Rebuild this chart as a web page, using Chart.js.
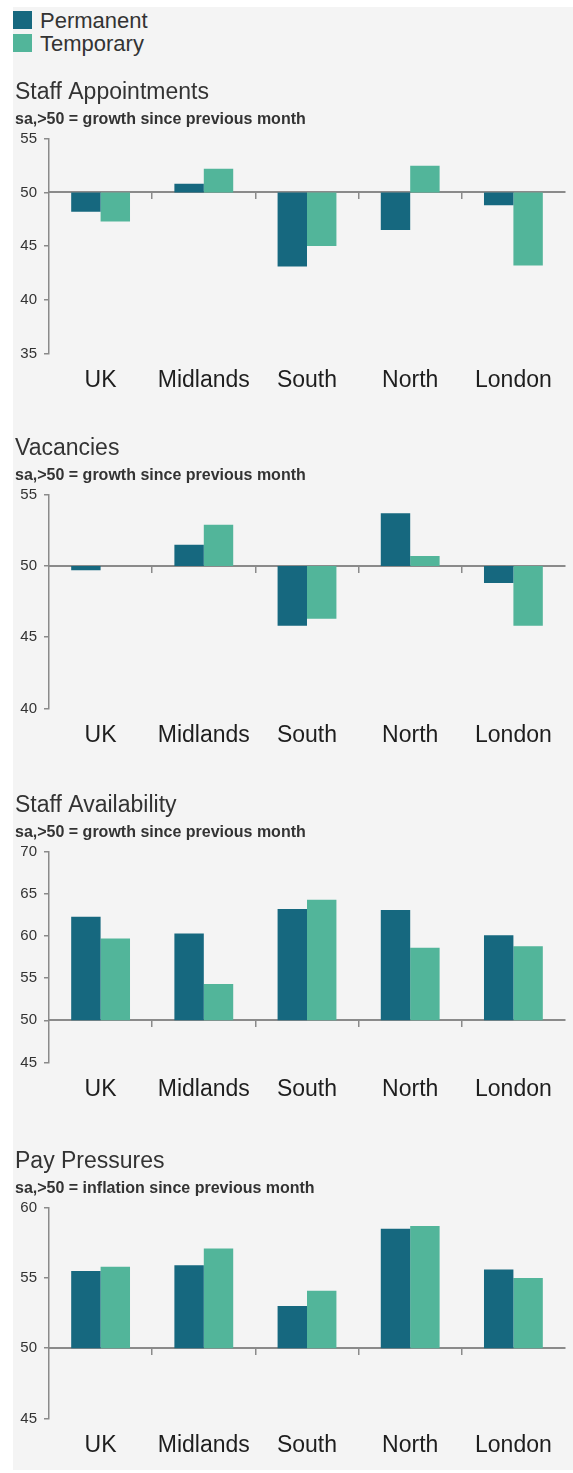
<!DOCTYPE html>
<html>
<head>
<meta charset="utf-8">
<script src="https://cdn.jsdelivr.net/npm/chart.js@4.4.1/dist/chart.umd.min.js"></script>
<style>
    body { margin: 0; background: #ffffff; font-family: "Liberation Sans", Arial, sans-serif; }
    .panel { position: absolute; left: 13px; top: 7px; width: 560px; height: 1463px; background: #f4f4f4; }
    .legend-item { position: absolute; left: 13px; height: 18px; }
    .legend-item .box { position: absolute; left: 0; top: 0; width: 19px; height: 18px; }
    .legend-item .label { position: absolute; left: 27px; top: -2px; font-size: 22px; line-height: 24px; color: #333; white-space: nowrap; }
    canvas { position: absolute; left: 13px; }
</style>
</head>
<body>
<div class="panel"></div>
<div class="legend-item" style="top: 11px;"><div class="box" style="background:#16687f"></div><div class="label">Permanent</div></div>
<div class="legend-item" style="top: 34px;"><div class="box" style="background:#52b59a"></div><div class="label">Temporary</div></div>

<canvas id="appointments" width="560" height="328" style="top: 79px;"></canvas>
<canvas id="vacancies" width="560" height="327" style="top: 435px;"></canvas>
<canvas id="availability" width="560" height="324" style="top: 792px;"></canvas>
<canvas id="pay" width="560" height="324" style="top: 1148px;"></canvas>

<script>
const categories = ["UK", "Midlands", "South", "North", "London"];

const appointmentsPerm = [48.2, 50.8, 43.1, 46.5, 48.8];
const appointmentsTemp = [47.3, 52.2, 45.0, 52.5, 43.2];

const vacanciesPerm = [49.7, 51.5, 45.8, 53.7, 48.8];
const vacanciesTemp = [50.0, 52.9, 46.3, 50.7, 45.8];

const availabilityPerm = [62.3, 60.3, 63.2, 63.1, 60.1];
const availabilityTemp = [59.7, 54.3, 64.3, 58.6, 58.8];

const payPerm = [55.5, 55.9, 53.0, 58.5, 55.6];
const payTemp = [55.8, 57.1, 54.1, 58.7, 55.0];

const baseline = 50;
const permColor = "#16687f";
const tempColor = "#52b59a";
const axisColor = "#8a8a8a";

function makeChart(id, title, subtitle, perm, temp, yMin, yMax) {
    const ctx = document.getElementById(id).getContext("2d");
    return new Chart(ctx, {
        type: "bar",
        data: {
            labels: categories,
            datasets: [
                { label: "Permanent", data: perm.map(v => [baseline, v]), backgroundColor: permColor },
                { label: "Temporary", data: temp.map(v => [baseline, v]), backgroundColor: tempColor }
            ]
        },
        options: {
            responsive: false,
            animation: false,
            categoryPercentage: 0.57,
            barPercentage: 1.0,
            layout: { padding: { left: 2, right: 8, top: 0, bottom: 0 } },
            plugins: {
                legend: { display: false },
                tooltip: { enabled: false },
                title: {
                    display: true,
                    text: title,
                    align: "start",
                    color: "#333",
                    font: { family: "Liberation Sans", size: 23, weight: "normal" },
                    padding: { top: 0, bottom: 3 }
                },
                subtitle: {
                    display: true,
                    text: subtitle,
                    align: "start",
                    color: "#333",
                    font: { family: "Liberation Sans", size: 16, weight: "bold" },
                    padding: { top: 0, bottom: 10 }
                }
            },
            scales: {
                x: {
                    grid: { display: false, drawTicks: false },
                    border: { display: false },
                    ticks: {
                        color: "#1e1e1e",
                        font: { family: "Liberation Sans", size: 23 },
                        padding: 13,
                        maxRotation: 0
                    }
                },
                x2: {
                    type: "category",
                    position: { y: baseline },
                    afterFit: s => { s.height = 0; },
                    ticks: { display: false },
                    grid: {
                        drawOnChartArea: false,
                        drawTicks: true,
                        tickLength: 6,
                        lineWidth: 1.5,
                        color: c => (c.type === "tick" && c.index > 0) ? axisColor : "rgba(0,0,0,0)"
                    },
                    border: { display: true, color: axisColor, width: 2 }
                },
                y: {
                    min: yMin,
                    max: yMax,
                    afterFit: s => { s.width = 34; },
                    ticks: {
                        stepSize: 5,
                        color: "#333",
                        font: { family: "Liberation Sans", size: 15 },
                        padding: 7
                    },
                    grid: {
                        drawOnChartArea: false,
                        drawTicks: true,
                        tickLength: 5,
                        lineWidth: 1.5,
                        color: axisColor
                    },
                    border: { display: true, color: axisColor, width: 1.5 }
                }
            }
        }
    });
}

makeChart("appointments", "Staff Appointments", "sa,>50 = growth since previous month", appointmentsPerm, appointmentsTemp, 35, 55);
makeChart("vacancies", "Vacancies", "sa,>50 = growth since previous month", vacanciesPerm, vacanciesTemp, 40, 55);
makeChart("availability", "Staff Availability", "sa,>50 = growth since previous month", availabilityPerm, availabilityTemp, 45, 70);
makeChart("pay", "Pay Pressures", "sa,>50 = inflation since previous month", payPerm, payTemp, 45, 60);
</script>
</body>
</html>
